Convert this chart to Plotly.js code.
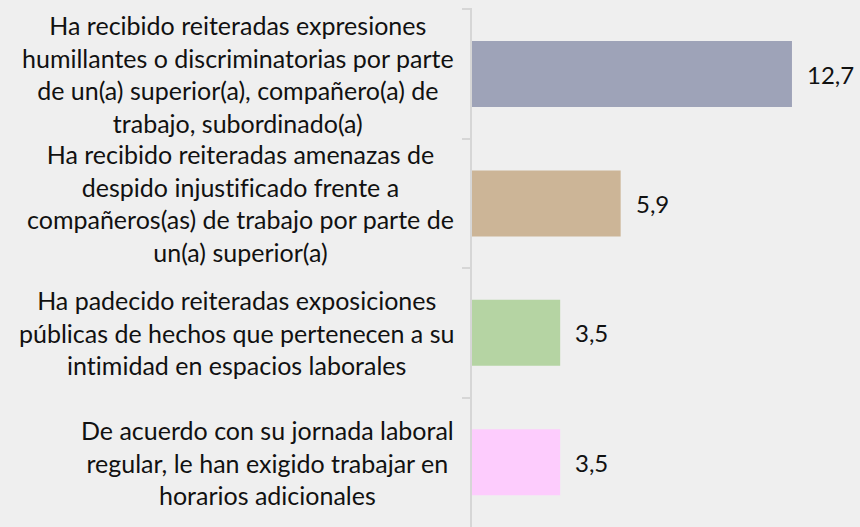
<!DOCTYPE html>
<html>
<head>
<meta charset="utf-8">
<script src="https://cdn.plot.ly/plotly-3.0.1.min.js"></script>
<style>
  html, body { margin: 0; padding: 0; background: #efefef; }
  #chart { width: 860px; height: 527px; }
  svg text { font-variant-ligatures: none; font-feature-settings: "liga" 0, "clig" 0; }
</style>
</head>
<body>
<div id="chart"></div>
<script>
// Situaciones de acoso laboral reportadas (%)
const categories = [
  "Ha recibido reiteradas expresiones<br>humillantes o discriminatorias por parte<br>de un(a) superior(a), compañero(a) de<br>trabajo, subordinado(a)",
  "Ha recibido reiteradas amenazas de<br>despido injustificado frente a<br>compañeros(as) de trabajo por parte de<br>un(a) superior(a)",
  "Ha padecido reiteradas exposiciones<br>públicas de hechos que pertenecen a su<br>intimidad en espacios laborales",
  "De acuerdo con su jornada laboral<br>regular, le han exigido trabajar en<br>horarios adicionales"
];
const values = [12.7, 5.9, 3.5, 3.5];
const barColors = ["#9ea3b8", "#ccb597", "#b5d4a3", "#fdccfd"];

const FONT = "Lato, 'Open Sans', sans-serif";
const fmt = v => v.toFixed(1).replace(".", ",");

const trace = {
  type: "bar",
  orientation: "h",
  x: values,
  y: categories,
  marker: { color: barColors },
  hoverinfo: "skip"
};

// Category labels: right-anchored blocks with centered lines
const labelNotes = categories.map(c => ({
  xref: "paper", yref: "y",
  x: 0, y: c,
  xanchor: "right", yanchor: "middle",
  xshift: -16,
  align: "center",
  text: c,
  showarrow: false,
  font: { family: FONT, size: 25, color: "#111" }
}));

// Value labels next to each bar end
const valueNotes = values.map((v, i) => ({
  xref: "x", yref: "y",
  x: v, y: categories[i],
  xanchor: "left", yanchor: "middle",
  xshift: 13,
  text: fmt(v),
  showarrow: false,
  font: { family: FONT, size: 24, color: "#111" }
}));

const layout = {
  width: 860,
  height: 527,
  margin: { l: 472, r: 0, t: 8, b: 0 },
  paper_bgcolor: "#efefef",
  plot_bgcolor: "rgba(0,0,0,0)",
  bargap: 0.49,
  showlegend: false,
  xaxis: {
    range: [0, 15.4],
    visible: false,
    fixedrange: true
  },
  yaxis: {
    type: "category",
    autorange: "reversed",
    showticklabels: false,
    ticks: "outside",
    tickson: "boundaries",
    ticklen: 8,
    tickwidth: 2,
    tickcolor: "#d6d6d6",
    showline: true,
    linecolor: "#d6d6d6",
    linewidth: 2,
    showgrid: false,
    zeroline: false,
    fixedrange: true
  },
  annotations: labelNotes.concat(valueNotes)
};

Plotly.newPlot("chart", [trace], layout, { displayModeBar: false, staticPlot: true });
</script>
</body>
</html>
